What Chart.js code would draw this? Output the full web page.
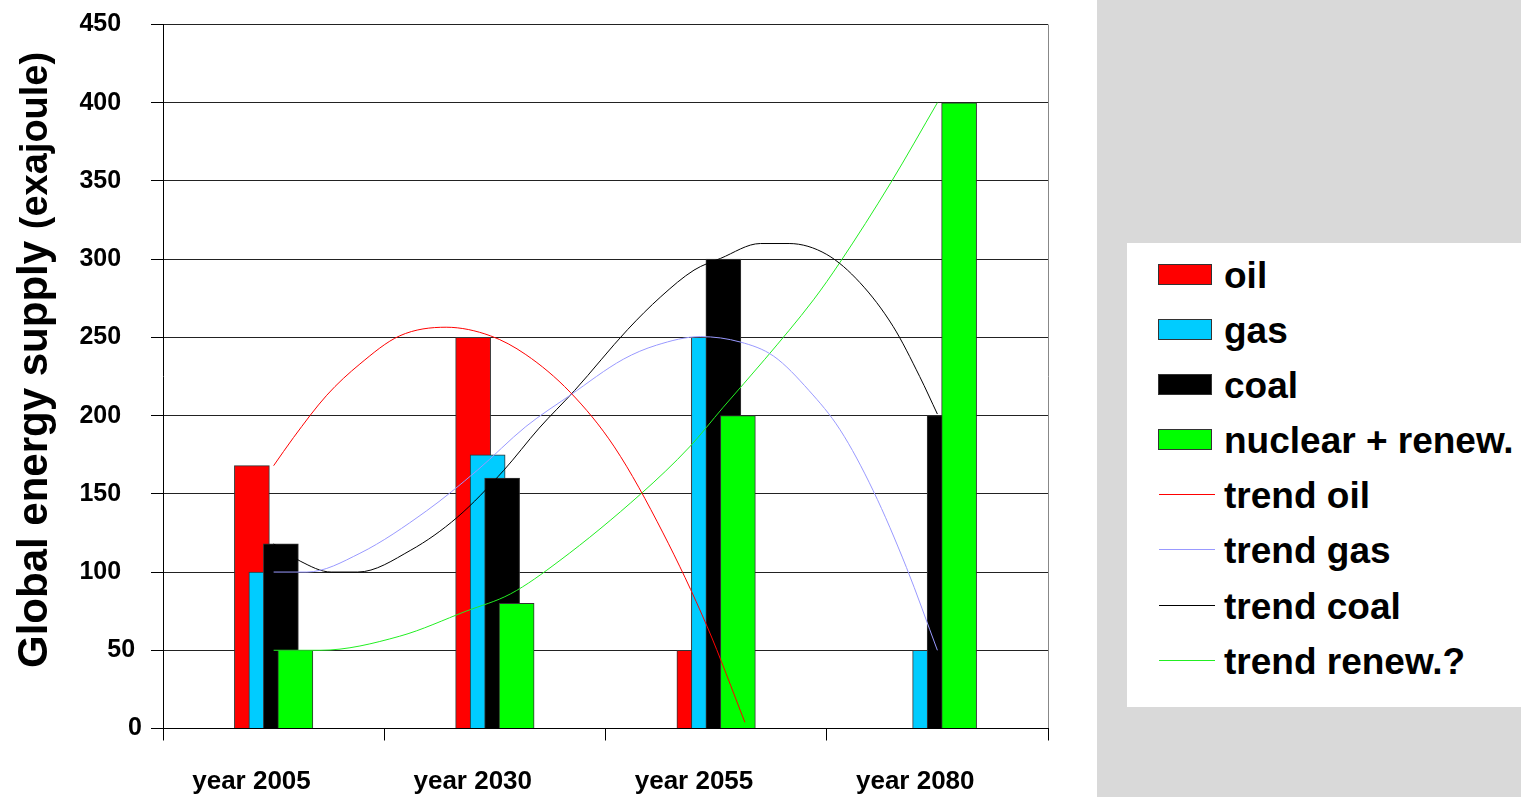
<!DOCTYPE html>
<html>
<head>
<meta charset="utf-8">
<title>Global energy supply</title>
<script src="https://cdn.jsdelivr.net/npm/chart.js@4.4.1/dist/chart.umd.min.js"></script>
<style>
  html, body { margin: 0; padding: 0; background: #fff; }
  body { width: 1521px; height: 797px; position: relative; overflow: hidden;
         font-family: "Liberation Sans", Arial, sans-serif; }
  #chart { position: absolute; left: 0; top: 0; }
  #panel { position: absolute; left: 1097px; top: 0; width: 424px; height: 797px; background: #d9d9d9; }
  #legend { position: absolute; left: 1127px; top: 243px; width: 394px; height: 464px; background: #fff; }
  .row { position: absolute; left: 0; height: 37px; line-height: 37px; font-weight: bold;
         font-size: 37px; color: #000; white-space: nowrap; }
  .box { position: absolute; left: 31px; width: 52px; height: 19px; border: 1px solid #333; }
  .ln { position: absolute; left: 32px; width: 56px; height: 0; border-top: 1px solid; }
  .txt { position: absolute; left: 97px; top: 0; }
</style>
</head>
<body>
<canvas id="chart" width="1097" height="797"></canvas>
<div id="panel"></div>
<div id="legend"></div>
<script>
// categories
const years = ["year 2005", "year 2030", "year 2055", "year 2080"];

// bar values (exajoule)
const oil = [168, 250, 50, 0];
const gas = [100, 175, 250, 50];
const coal = [118, 160, 300, 200];
const renew = [50, 80, 200, 400];

// trend curves (x in category units, 0.5 = centre of 2005)
const trendOilX = [0.50, 0.59, 0.74, 0.89, 1.07, 1.28, 1.48, 1.64, 1.84, 2.04, 2.26, 2.46, 2.63];
const trendOilY = [168, 186, 213, 233, 251, 256.5, 251, 239, 215, 180, 125, 65, 4];

const trendGasX = [0.50, 0.65, 0.89, 1.19, 1.42, 1.64, 1.84, 2.08, 2.23, 2.43, 2.61, 2.76, 2.92, 3.06, 3.21, 3.36, 3.50];
const trendGasY = [100, 100, 112, 139, 165, 193, 213, 236, 245, 250.5, 247, 238, 216, 191, 152, 103, 50];

const trendCoalX = [0.50, 0.62, 0.76, 0.88, 1.12, 1.33, 1.54, 1.70, 1.86, 2.10, 2.25, 2.40, 2.52, 2.70, 2.83, 3.00, 3.15, 3.30, 3.42, 3.50];
const trendCoalY = [118, 107, 100, 100, 114, 135, 165, 192, 216, 255, 276, 293, 300.5, 310, 310, 303, 285, 257, 225, 201];

const trendRenewX = [0.50, 0.71, 1.07, 1.37, 1.57, 1.79, 2.16, 2.38, 2.53, 2.72, 2.94, 3.06, 3.29, 3.50];
const trendRenewY = [50, 50, 59, 75, 86, 107, 150, 180, 205, 236, 274, 298, 349, 400];

// y axis ticks
const yMax = 450;
const yStep = 50;

const titleMain = "Global energy supply ";
const titleUnit = "(exajoule)";

const FONT = '"Liberation Sans", Arial, sans-serif';

// bars overlap like the original: each series shifted a bit inside its category
const barShift = [-1.5, -0.5, 0.5, 1.5].map(k => k * 0.0655);

function barData(values, s) {
  return values.map((v, i) => ({ x: i + 0.5 + barShift[s], y: v }));
}
function trendData(xs, ys) {
  return xs.map((x, i) => ({ x: x, y: ys[i] }));
}

function barSet(label, values, s, color) {
  return {
    type: "bar", label: label, data: barData(values, s),
    backgroundColor: color, borderColor: "#333", borderWidth: 1,
    barThickness: 35, grouped: false, order: 4 - s
  };
}
function trendSet(label, xs, ys, color) {
  return {
    type: "line", label: label, data: trendData(xs, ys),
    borderColor: color, borderWidth: 1, pointRadius: 0, fill: false,
    cubicInterpolationMode: "monotone", order: 0
  };
}

const datasets = [
  barSet("oil", oil, 0, "#ff0000"),
  barSet("gas", gas, 1, "#00ccff"),
  barSet("coal", coal, 2, "#000000"),
  barSet("nuclear + renew.", renew, 3, "#00ff00"),
  trendSet("trend oil", trendOilX, trendOilY, "#ff0000"),
  trendSet("trend gas", trendGasX, trendGasY, "#9999ff"),
  trendSet("trend coal", trendCoalX, trendCoalY, "#000000"),
  trendSet("trend renew.?", trendRenewX, trendRenewY, "#22ee22")
];

// rotated y title with a smaller unit part
const yTitlePlugin = {
  id: "yTitle",
  afterDraw(chart) {
    const c = chart.ctx;
    c.save();
    c.translate(47, 668);
    c.rotate(-Math.PI / 2);
    c.fillStyle = "#000";
    c.textBaseline = "alphabetic";
    c.textAlign = "left";
    c.font = "bold 42px " + FONT;
    c.fillText(titleMain, 0, 0);
    const w = c.measureText(titleMain).width;
    c.font = "bold 38px " + FONT;
    c.fillText(titleUnit, w, 0);
    c.restore();
  }
};

const xTicks = [];
years.forEach((y, i) => { xTicks.push(i, i + 0.4); });
xTicks.push(years.length);

new Chart(document.getElementById("chart"), {
  data: { datasets: datasets },
  options: {
    responsive: false,
    animation: false,
    layout: { padding: { top: 24.5, right: 49, left: 0, bottom: 0 } },
    plugins: { legend: { display: false }, tooltip: { enabled: false } },
    scales: {
      x: {
        type: "linear", min: 0, max: years.length, offset: false,
        afterBuildTicks: axis => { axis.ticks = xTicks.map(v => ({ value: v })); },
        afterFit: s => { s.height = 68.5; },
        ticks: {
          autoSkip: false, maxRotation: 0, padding: 26, color: "#000",
          font: { family: FONT, size: 26, weight: "bold" },
          callback: v => Number.isInteger(v) ? "" : years[Math.floor(v)]
        },
        grid: {
          offset: false, drawOnChartArea: true, tickLength: 12,
          color: ctx => (ctx.tick && ctx.tick.value === years.length) ? "#888" : "rgba(0,0,0,0)",
          tickColor: ctx => (ctx.tick && Number.isInteger(ctx.tick.value)) ? "#000" : "rgba(0,0,0,0)"
        },
        border: { color: "#000" }
      },
      y: {
        min: 0, max: yMax,
        afterFit: s => { s.width = 163; },
        ticks: {
          stepSize: yStep, padding: 9, color: "#000",
          font: { family: FONT, size: 25, weight: "bold" },
          callback: v => v >= 100 ? v + "   " : (v >= 10 ? v + " " : "" + v)
        },
        grid: { color: "#222", tickLength: 12, tickColor: "#000" },
        border: { color: "#000" }
      }
    }
  },
  plugins: [yTitlePlugin]
});

// legend box on the grey panel
const legend = document.getElementById("legend");
datasets.forEach((d, i) => {
  const row = document.createElement("div");
  row.className = "row";
  row.style.top = (273.7 + 55.15 * i - 243 - 17) + "px";
  const sw = document.createElement("div");
  if (d.type === "bar") {
    sw.className = "box";
    sw.style.top = "7px";
    sw.style.background = d.backgroundColor;
  } else {
    sw.className = "ln";
    sw.style.top = "17px";
    sw.style.borderTopColor = d.borderColor;
  }
  const t = document.createElement("span");
  t.className = "txt";
  t.textContent = d.label;
  row.appendChild(sw);
  row.appendChild(t);
  legend.appendChild(row);
});
</script>
</body>
</html>
